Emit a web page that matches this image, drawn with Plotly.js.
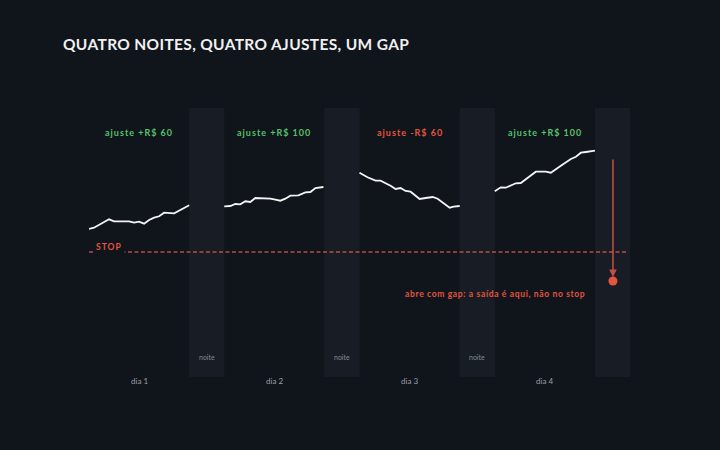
<!DOCTYPE html>
<html>
<head>
<meta charset="utf-8">
<script src="https://cdn.plot.ly/plotly-3.0.1.min.js"></script>
<style>
  html, body { margin: 0; padding: 0; background: #10141b; }
  #chart { width: 720px; height: 450px; }
</style>
</head>
<body>
<div id="chart"></div>
<script>
// time axis: each day lasts 10 units, then a night of 3.5 units
const DAY_LEN = 10;
const PERIOD = 13.5;

const dayLabels = ['dia 1', 'dia 2', 'dia 3', 'dia 4'];
const nightLabels = ['noite', 'noite', 'noite', ''];
const adjustLabels = ['ajuste +R$ 60', 'ajuste +R$ 100', 'ajuste -R$ 60', 'ajuste +R$ 100'];
const adjustSign = [1, 1, -1, 1];

// intraday price path (time within day, price)
const day1T = [0, 0.5, 2, 2.5, 4, 4.5, 5, 5.5, 6, 6.5, 7, 7.5, 8.5, 9, 10];
const day1P = [148, 149.3, 157.7, 155.7, 155.7, 154.3, 155.3, 153.3, 157, 159.3, 160.7, 164.3, 163.7, 166.3, 171.7];

const day2T = [0, 0.6, 1.1, 1.6, 2.1, 2.6, 3.1, 3.6, 4.6, 5.1, 5.6, 6.1, 6.6, 7.4, 8.1, 8.6, 9.1, 9.9];
const day2P = [170.7, 171, 173, 172.7, 175.7, 175, 179, 179, 178.3, 177.3, 176.3, 178.3, 181.3, 181.7, 184.7, 185, 189, 190];

const day3T = [0, 0.8, 1.6, 2.1, 3.1, 3.6, 4.1, 4.6, 5.1, 6, 6.6, 7.3, 7.8, 8.5, 9, 9.4, 10];
const day3P = [204.3, 199.7, 196.3, 196.3, 191.3, 188, 189, 186, 185.3, 178, 179, 180, 178.3, 173.3, 169.3, 170.3, 171];

const day4T = [0, 0.6, 1.1, 2.1, 2.6, 3.1, 4.1, 5.1, 5.6, 6.6, 7.6, 8.1, 8.6, 9.1, 10];
const day4P = [185.7, 189.7, 189.3, 193.7, 194, 198, 205.3, 205.3, 204.3, 211.3, 218, 220.3, 224.3, 225, 226.3];

const stopLevel = 125;
const gapTime = 52.3;      // during the 4th night
const gapFrom = 219;
const gapOpen = 96;

const dayTimes = [day1T, day2T, day3T, day4T];
const dayPrices = [day1P, day2P, day3P, day4P];

const BG = '#10141b';
const RED = '#e4543f';
const GREEN = '#57c26a';
const FONT = 'Lato, "Open Sans", sans-serif';

function spaced(txt, px) {
    return '<span style="letter-spacing:' + px + 'px">' + txt + '</span>';
}

const traces = [];

// stop line
traces.push({
    x: [0, 4 * PERIOD - 0.3],
    y: [stopLevel, stopLevel],
    mode: 'lines',
    line: { color: 'rgba(214,86,70,0.85)', width: 1.4, dash: '4px,2.5px' },
    hoverinfo: 'skip'
});

dayTimes.forEach((t, i) => {
    traces.push({
        x: t.map(v => v + i * PERIOD),
        y: dayPrices[i],
        mode: 'lines',
        line: { color: '#f4f4f4', width: 1.8 },
        hoverinfo: 'skip'
    });
});

// gap open marker
traces.push({
    x: [gapTime],
    y: [gapOpen],
    mode: 'markers',
    marker: { color: RED, size: 9 },
    hoverinfo: 'skip'
});

const shapes = [];
for (let i = 0; i < 4; i++) {
    shapes.push({
        type: 'rect', xref: 'x', yref: 'paper',
        x0: i * PERIOD + DAY_LEN, x1: (i + 1) * PERIOD,
        y0: 0, y1: 1,
        fillcolor: '#181d25', line: { width: 0 }, layer: 'below'
    });
}

const annotations = [];
for (let i = 0; i < 4; i++) {
    annotations.push({
        x: i * PERIOD + DAY_LEN / 2, y: -4 / 269, xref: 'x', yref: 'paper',
        text: dayLabels[i], showarrow: false, yanchor: 'middle',
        font: { family: FONT, size: 8, color: '#9aa0a8' }
    });
    if (nightLabels[i]) {
        annotations.push({
            x: i * PERIOD + DAY_LEN + (PERIOD - DAY_LEN) / 2, y: 20, xref: 'x', yref: 'y',
            text: nightLabels[i], showarrow: false, yanchor: 'middle',
            font: { family: FONT, size: 7, color: '#838993' }
        });
    }
    annotations.push({
        x: i * PERIOD + DAY_LEN / 2, y: 245, xref: 'x', yref: 'y',
        text: spaced(adjustLabels[i], 1), showarrow: false, yanchor: 'middle',
        font: { family: FONT, size: 9, weight: 'bold', color: adjustSign[i] > 0 ? GREEN : RED }
    });
}

annotations.push({
    x: 0.4, y: 130, xref: 'x', yref: 'y', xanchor: 'left', yanchor: 'middle',
    text: spaced('STOP', 1), showarrow: false, bgcolor: BG, borderpad: 2,
    font: { family: FONT, size: 8.5, weight: 'bold', color: RED }
});

annotations.push({
    x: gapTime, y: gapOpen + 4, xref: 'x', yref: 'y',
    ax: gapTime, ay: gapFrom, axref: 'x', ayref: 'y',
    text: '', showarrow: true, arrowhead: 2, arrowsize: 1, arrowwidth: 1.5,
    arrowcolor: 'rgba(214,86,70,0.9)'
});

annotations.push({
    x: 49.7, y: 83, xref: 'x', yref: 'y', xanchor: 'right', yanchor: 'middle',
    text: spaced('abre com gap: a saída é aqui, não no stop', 0.65), showarrow: false,
    font: { family: FONT, size: 8.5, weight: 'bold', color: RED }
});

const layout = {
    width: 720,
    height: 450,
    paper_bgcolor: BG,
    plot_bgcolor: BG,
    showlegend: false,
    margin: { l: 89, r: 90, t: 108, b: 73 },
    title: {
        text: spaced('QUATRO NOITES, QUATRO AJUSTES, UM GAP', 0.35),
        x: 0, xref: 'paper', xanchor: 'left',
        y: 1, yref: 'container', yanchor: 'top', pad: { t: 39, l: -26 },
        font: { family: FONT, size: 15.5, weight: 'bold', color: '#f0f0f0' }
    },
    xaxis: { range: [0, 4 * PERIOD], visible: false, fixedrange: true },
    yaxis: { range: [0, 269], visible: false, fixedrange: true },
    shapes: shapes,
    annotations: annotations
};

Plotly.newPlot('chart', traces, layout, { displayModeBar: false, staticPlot: true });
</script>
</body>
</html>
